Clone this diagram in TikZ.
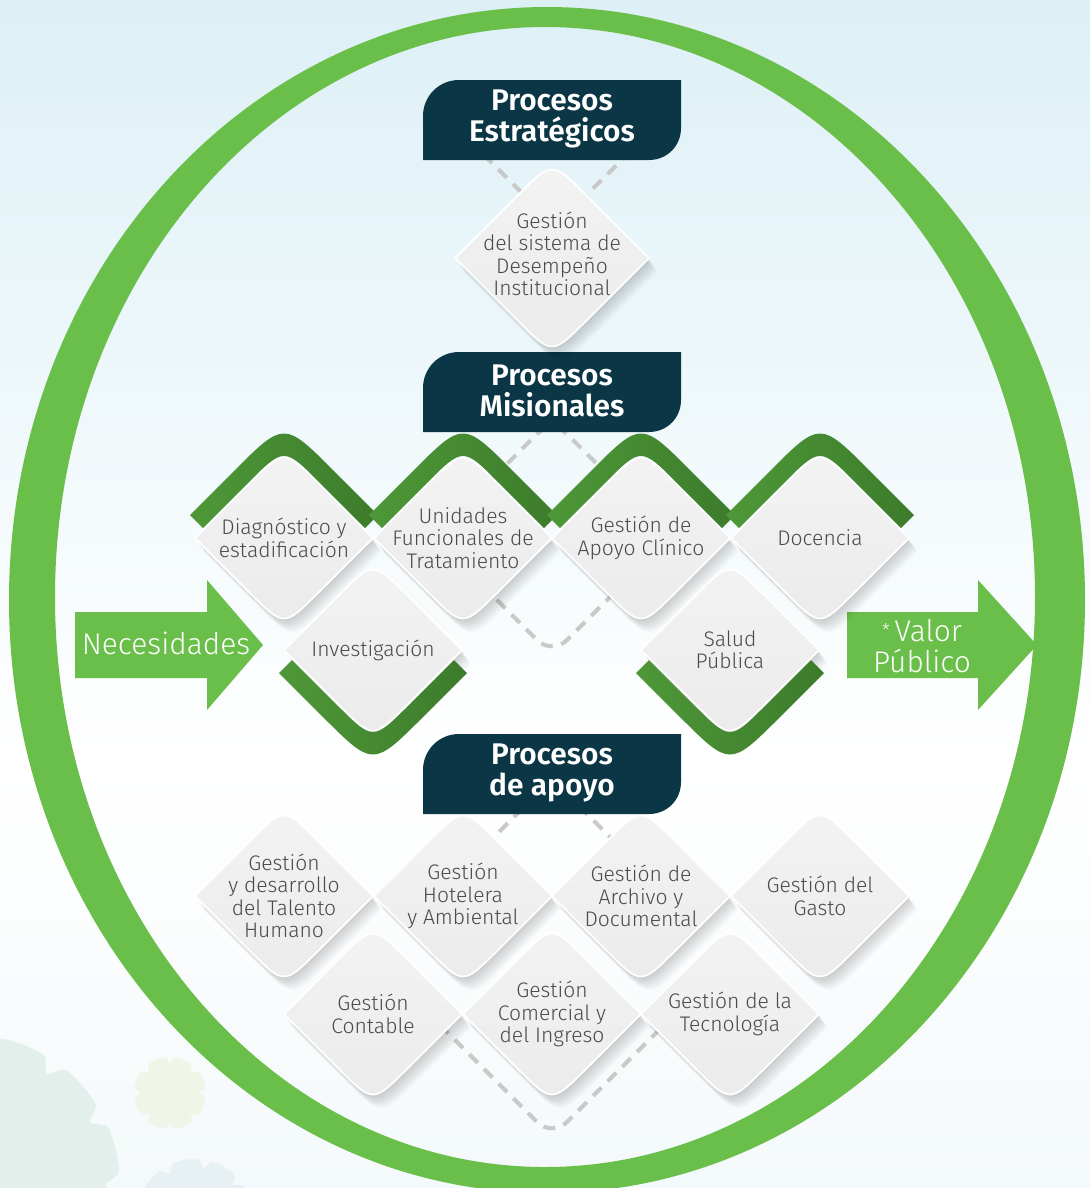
\documentclass[tikz,border=0pt]{standalone}
\usepackage{fontspec}
\setmainfont{Fira Sans}[UprightFont={* Light}, BoldFont={* SemiBold}]
\usepackage{tikz}
\usetikzlibrary{calc}
\definecolor{sky-100}{HTML}{DDF0F6}
\definecolor{sky-050}{HTML}{F4F9FB}
\definecolor{ring-green}{HTML}{6ABF4B}
\definecolor{band-left}{HTML}{4E9838}
\definecolor{band-mid}{HTML}{5DAA44}
\definecolor{band-right}{HTML}{3C7B2B}
\definecolor{header-teal}{HTML}{0B3645}
\definecolor{face-top}{HTML}{F3F3F3}
\definecolor{face-bottom}{HTML}{EBEBEB}
\definecolor{label-gray}{HTML}{4A4A4A}
\definecolor{dash-gray}{HTML}{C9C9C9}
\definecolor{gear-green}{HTML}{E2EFEA}
\definecolor{gear-lime}{HTML}{F1F5E8}
\definecolor{gear-blue}{HTML}{E7F1F4}
\newcommand{\rhombfont}{\fontsize{12}{12.8}\selectfont}
\newcommand{\headfont}{\bfseries\fontsize{17}{17.6}\selectfont}
\newcommand{\arrowfont}{\fontsize{17}{17.5}\selectfont}
% diamond outline: centre x, centre y, half diagonal
\newcommand{\rhomb}[3]{(#1-#3,#2) -- (#1-34,#2-#3+34) .. controls (#1,#2-#3) .. (#1+34,#2-#3+34)
	-- (#1+#3,#2) -- (#1+34,#2+#3-34) .. controls (#1,#2+#3) .. (#1-34,#2+#3-34) -- cycle}
% green bands over / under a diamond
\newcommand{\bandup}[2]{(#1-94,#2-23) -- (#1-50,#2-67) .. controls (#1,#2-117) .. (#1+50,#2-67) -- (#1+94,#2-23)
	-- (#1+81,#2-10) -- (#1+36,#2-55) .. controls (#1,#2-91) .. (#1-36,#2-55) -- (#1-81,#2-10) -- cycle}
\newcommand{\banddown}[2]{(#1-94,#2+23) -- (#1-50,#2+67) .. controls (#1,#2+117) .. (#1+50,#2+67) -- (#1+94,#2+23)
	-- (#1+81,#2+10) -- (#1+36,#2+55) .. controls (#1,#2+91) .. (#1-36,#2+55) -- (#1-81,#2+10) -- cycle}
% header tab: centre x, centre y
\newcommand{\hdrtab}[2]{(#1-129,#2+40) -- (#1-129,#2-4) .. controls (#1-129,#2-24) and (#1-113,#2-40) .. (#1-93,#2-40)
	-- (#1+129,#2-40) -- (#1+129,#2+8) .. controls (#1+129,#2+26) and (#1+115,#2+40) .. (#1+97,#2+40) -- cycle}
\tikzset{%
		rhombface/.style = {
			draw = white,
			line width = 1pt,
			line join = round,
			top color = face-top,
			bottom color = face-bottom
		},
		rhombshadow/.style = {
			fill = black,
			opacity = 0.03
		},
		rhombtext/.style = {
			text = label-gray,
			align = center,
			inner sep = 0pt,
			font = \rhombfont
		},
		band/.style = {
			left color = band-left,
			middle color = band-mid,
			right color = band-right
		},
		headtab/.style = {
			fill = header-teal
		},
		headtext/.style = {
			text = white,
			align = center,
			inner sep = 0pt,
			font = \headfont
		},
		arrowtext/.style = {
			text = white,
			align = center,
			inner sep = 0pt,
			font = \arrowfont
		},
		dashline/.style = {
			draw = dash-gray,
			line width = 2.3pt,
			dash pattern = on 6.8pt off 5pt,
			rounded corners = 12pt
		}
	}

\begin{document}
\begin{tikzpicture}[x=0.02cm, y=-0.02cm]
	\useasboundingbox (0,0) rectangle (1090,1188);
	\clip (0,0) rectangle (1090,1188);

	% backdrop
	\shade[top color=sky-100, bottom color=white] (0,0) rectangle (1090,760);
	\shade[top color=white, bottom color=sky-050] (0,760) rectangle (1090,1188);
	\fill[gear-green] plot[domain=0:360, samples=260]
		({-30+150*(1-0.1*(max(0,cos(13*\x)))^4)*cos(\x)}, {1185+150*(1-0.1*(max(0,cos(13*\x)))^4)*sin(\x)}) -- cycle;
	\fill[gear-lime] plot[domain=0:360, samples=200]
		({170+36*(1-0.18*(max(0,cos(8*\x)))^4)*cos(\x)}, {1093+36*(1-0.18*(max(0,cos(8*\x)))^4)*sin(\x)}) -- cycle;
	\fill[gear-blue] plot[domain=0:360, samples=200]
		({195+58*(1-0.14*(max(0,cos(9*\x)))^4)*cos(\x)}, {1217+58*(1-0.14*(max(0,cos(9*\x)))^4)*sin(\x)}) -- cycle;

	% ring
	\fill[ring-green, even odd rule]
		(547,600) ellipse [x radius=538, y radius=593]
		(545,597) ellipse [x radius=490, y radius=570];

	% dashed guides
	\draw[dashline] (469,140) -- (555,226) -- (641,141);
	\draw[dashline] (434,537) -- (552,419) -- (670,537) -- (552,655) -- cycle;
	\draw[dashline] (470,861) -- (552,779) -- (635,862);
	\draw[dashline] (440,1025) -- (552,1137) -- (664,1025);

	% headers
	\fill[headtab] \hdrtab{552}{120};
	\node[headtext] (strat) at (552,119) {Procesos\\Estratégicos};
	\fill[headtab] \hdrtab{552}{392};
	\node[headtext] (mision) at (552,391) {Procesos\\Misionales};
	\fill[headtab] \hdrtab{552}{774};
	\node[headtext] (apoyo) at (552,773) {Procesos\\de apoyo};

	% arrows
	\fill[ring-green] (75,612) -- (207,612) -- (207,580) -- (263,645) -- (207,710) -- (207,678) -- (75,678) -- cycle;
	\node[arrowtext] (needs) at (166,643) {Necesidades};
	\fill[ring-green] (847,612) -- (978,612) -- (978,580) -- (1037,645) -- (978,710) -- (978,678) -- (847,678) -- cycle;
	\node[arrowtext] (value) at (922,646) {\raisebox{3pt}{\fontsize{10}{10}\selectfont *}\,Valor\\Público};

	% procesos estrategicos
	\foreach \s in {1,...,6}
		\fill[rhombshadow, shift={(1.4*\s,2.2*\s)}] \rhomb{552}{258}{97};
	\path[rhombface] \rhomb{552}{258}{97};
	\node[rhombtext] (desemp) at (552,254) {Gestión\\del sistema de\\Desempeño\\Institucional};

	% procesos misionales
	\foreach \cx/\cy in {284/538, 463/538, 641/538, 820/538, 373/650, 730/650}
		\foreach \s in {1,...,6}
			\fill[rhombshadow, shift={(1.4*\s,2.2*\s)}] \rhomb{\cx}{\cy}{89};
	\foreach \cx in {284, 463, 641, 820}
		\shade[band] \bandup{\cx}{538};
	\foreach \cx in {373, 730}
		\shade[band] \banddown{\cx}{650};
	\foreach \cx/\cy/\nm/\txt in {
			284/538/diag/{Diagnóstico y\\estadificación},
			463/538/unid/{Unidades\\Funcionales de\\Tratamiento},
			641/538/clin/{Gestión de\\Apoyo Clínico},
			820/538/doc/{Docencia},
			373/650/inv/{Investigación},
			730/650/salud/{Salud\\Pública}} {
		\path[rhombface] \rhomb{\cx}{\cy}{89};
		\node[rhombtext] (\nm) at (\cx,\cy) {\txt};
	}

	% procesos de apoyo
	\foreach \cx/\cy in {284/896, 463/896, 641/896, 820/896, 373/1014, 552/1014, 730/1014}
		\foreach \s in {1,...,6}
			\fill[rhombshadow, shift={(1.4*\s,2.2*\s)}] \rhomb{\cx}{\cy}{89};
	\foreach \cx/\cy/\nm/\txt in {
			284/896/talento/{Gestión\\y desarrollo\\del Talento\\Humano},
			463/896/hotel/{Gestión\\Hotelera\\y Ambiental},
			641/896/archivo/{Gestión de\\Archivo y\\Documental},
			820/896/gasto/{Gestión del\\Gasto},
			373/1014/contable/{Gestión\\Contable},
			552/1014/ingreso/{Gestión\\Comercial y\\del Ingreso},
			730/1014/tecno/{Gestión de la\\Tecnología}} {
		\path[rhombface] \rhomb{\cx}{\cy}{89};
		\node[rhombtext] (\nm) at (\cx,\cy) {\txt};
	}
\end{tikzpicture}
\end{document}
